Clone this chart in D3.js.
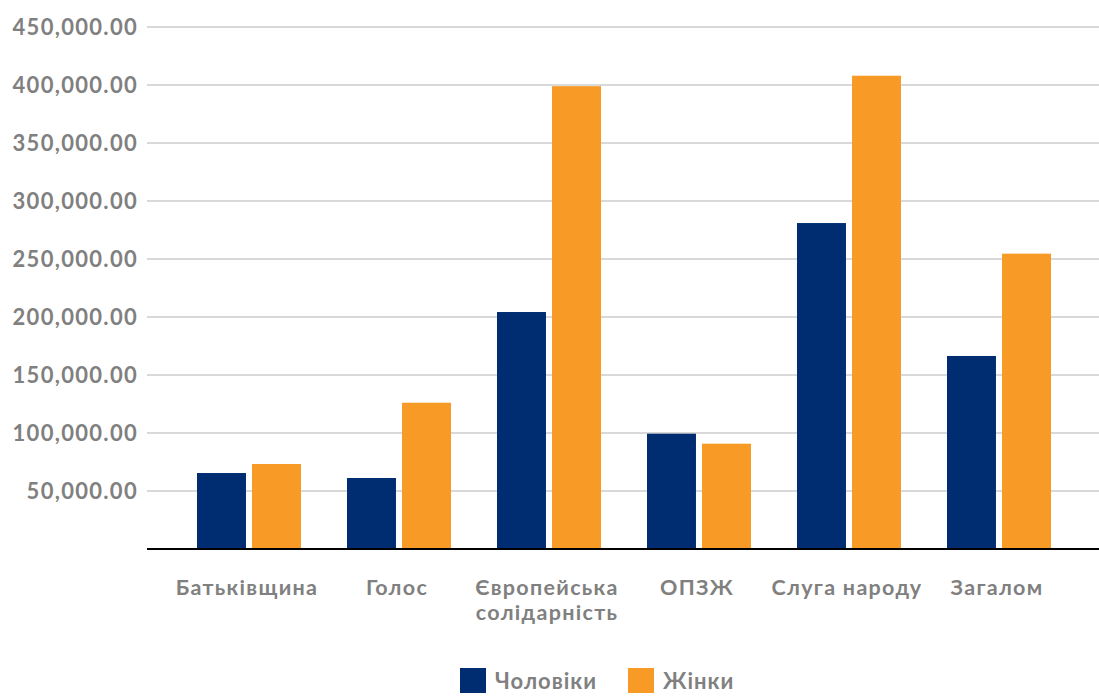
<!DOCTYPE html>
<html>
<head>
<meta charset="utf-8">
<script src="https://cdn.jsdelivr.net/npm/d3@7"></script>
<style>
  body { margin: 0; background: #fff; }
  text { font-family: Lato, "Open Sans", sans-serif; font-weight: 700; fill: #808080; }
</style>
</head>
<body>
<div id="chart"></div>
<script>
var parties = ["Батьківщина", "Голос", "Європейська солідарність", "ОПЗЖ", "Слуга народу", "Загалом"];
var seriesNames = ["Чоловіки", "Жінки"];
var men = [65500, 61200, 204300, 99400, 281000, 166400];
var women = [73300, 126100, 399000, 90800, 408000, 254600];
var yTicks = [50000, 100000, 150000, 200000, 250000, 300000, 350000, 400000, 450000];
var colors = ["#002d72", "#f79a26"];

var width = 1099, height = 696;
var svg = d3.select("#chart").append("svg")
  .attr("width", width).attr("height", height);

var y = d3.scaleLinear().domain([0, 450000]).range([549, 27]);
var x = d3.scaleBand().domain(parties).range([174, 1074]);
var x1 = d3.scaleBand().domain(seriesNames).range([23, 127]).paddingInner(0.11);

// gridlines
svg.append("g").selectAll("line")
  .data(yTicks).enter().append("line")
  .attr("x1", 147).attr("x2", width)
  .attr("y1", function (d) { return y(d); })
  .attr("y2", function (d) { return y(d); })
  .style("stroke", "#d9d9d9").style("stroke-width", 2);

// y tick labels
var fmt = d3.format(",.2f");
svg.append("g").selectAll("text")
  .data(yTicks).enter().append("text")
  .attr("x", 138)
  .attr("y", function (d) { return y(d); })
  .attr("dy", "0.36em")
  .attr("text-anchor", "end")
  .style("font-size", "22px")
  .style("letter-spacing", "1.3px")
  .text(function (d) { return fmt(d); });

// bars
var rows = parties.map(function (p, i) {
  return { party: p, values: [men[i], women[i]] };
});
var groups = svg.selectAll("g.grp")
  .data(rows).enter().append("g")
  .attr("class", "grp")
  .attr("transform", function (d) { return "translate(" + x(d.party) + ",0)"; });
groups.selectAll("rect")
  .data(function (d) { return d.values.map(function (v, j) { return { s: seriesNames[j], v: v, j: j }; }); })
  .enter().append("rect")
  .attr("x", function (d) { return x1(d.s); })
  .attr("width", x1.bandwidth())
  .attr("y", function (d) { return y(d.v); })
  .attr("height", function (d) { return y(0) - y(d.v); })
  .style("fill", function (d) { return colors[d.j]; });

// baseline
svg.append("line")
  .attr("x1", 147).attr("x2", width)
  .attr("y1", y(0)).attr("y2", y(0))
  .style("stroke", "#000").style("stroke-width", 2);

// category labels
var labelLines = {
  "Європейська солідарність": ["Європейська", "солідарність"]
};
svg.append("g").selectAll("text")
  .data(parties).enter().append("text")
  .attr("x", function (d) { return x(d) + x.bandwidth() / 2 - 2; })
  .attr("y", 595)
  .attr("text-anchor", "middle")
  .style("font-size", "21.5px")
  .style("letter-spacing", "1.3px")
  .each(function (d) {
    var lines = labelLines[d] || [d];
    var t = d3.select(this);
    lines.forEach(function (l, i) {
      t.append("tspan")
        .attr("x", x(d) + x.bandwidth() / 2 - 2)
        .attr("dy", i === 0 ? 0 : 25)
        .text(l);
    });
  });

// legend
var legendX = [460, 628];
var legend = svg.append("g").selectAll("g")
  .data(seriesNames).enter().append("g")
  .attr("transform", function (d, i) { return "translate(" + legendX[i] + ",668)"; });
legend.append("rect")
  .attr("width", 26).attr("height", 25)
  .style("fill", function (d, i) { return colors[i]; });
legend.append("text")
  .attr("x", 35).attr("y", 21)
  .style("font-size", "22px")
  .style("letter-spacing", "1px")
  .text(function (d) { return d; });
</script>
</body>
</html>
